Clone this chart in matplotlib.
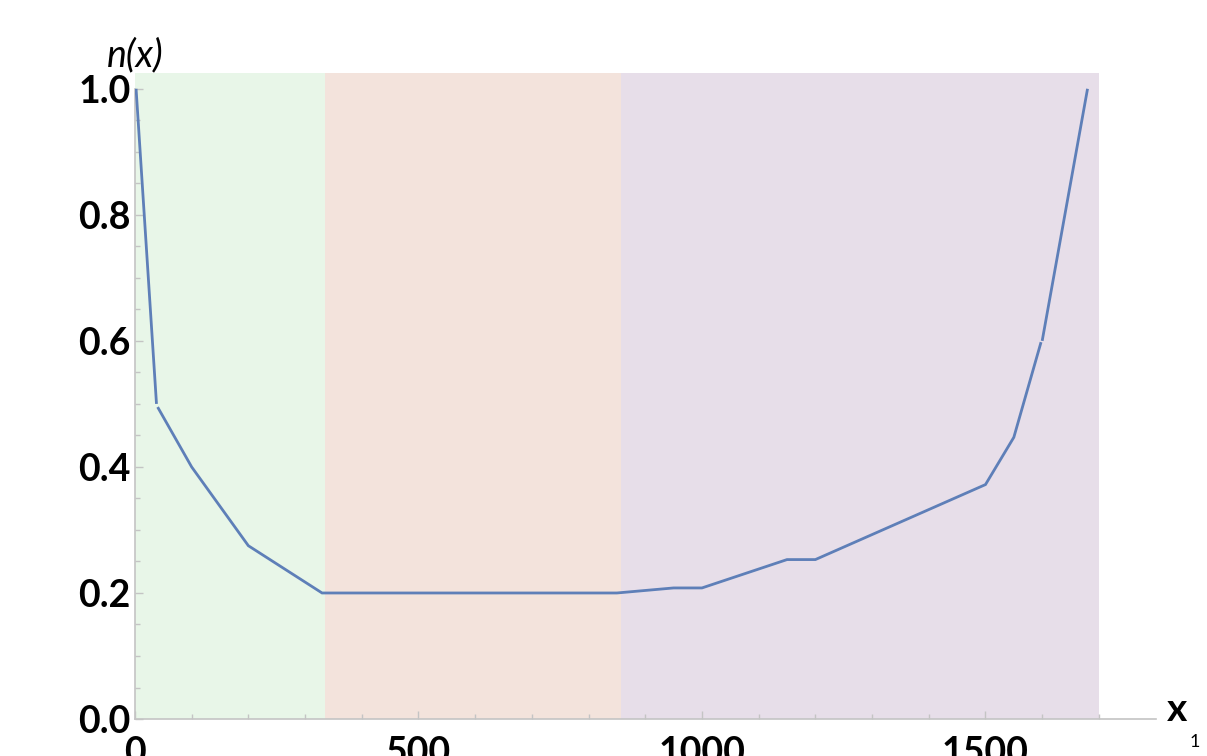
import matplotlib
matplotlib.use("Agg")
import matplotlib.pyplot as plt

# Piecewise profile n(x) along x1
x_left = [2, 38]
n_left = [1.0, 0.50]
x_mid = [40, 100, 200, 330, 850, 950, 1000, 1150, 1200, 1500, 1550, 1598]
n_mid = [0.495, 0.40, 0.275, 0.20, 0.20, 0.208, 0.208, 0.253, 0.253, 0.372, 0.447, 0.598]
x_right = [1600, 1680]
n_right = [0.60, 1.0]

# Shaded zones along x1
zone_edges = [0, 335, 857, 1700]
zone_colors = ["#e8f6e8", "#f3e3dc", "#e7dee9"]

x_ticks = [0, 500, 1000, 1500]
y_ticks = [0.0, 0.2, 0.4, 0.6, 0.8, 1.0]
y_tick_labels = ["0.0", "0.2", "0.4", "0.6", "0.8", "1.0"]

LINE = "#5e7fb8"
AXIS = "#c4c4c4"
FONT = "Lato"

fig = plt.figure(figsize=(12.07, 7.56), dpi=100)
ax = fig.add_axes([0.1118, 0.0489, 0.8456, 0.8545])

for (a, b), c in zip(zip(zone_edges[:-1], zone_edges[1:]), zone_colors):
    ax.axvspan(a, b, color=c, lw=0, zorder=0)

for xs, ys in [(x_left, n_left), (x_mid, n_mid), (x_right, n_right)]:
    ax.plot(xs, ys, color=LINE, lw=2.0, solid_capstyle="butt",
            solid_joinstyle="miter", zorder=3)

ax.set_xlim(0, 1800)
ax.set_ylim(0, 1.025)

for s in ["top", "right"]:
    ax.spines[s].set_visible(False)
for s in ["left", "bottom"]:
    ax.spines[s].set_color(AXIS)
    ax.spines[s].set_linewidth(1.2)
ax.spines["left"].set_bounds(0, 1.0)

ax.set_xticks(x_ticks)
ax.set_xticks(range(0, 1800, 100), minor=True)
ax.set_yticks(y_ticks)
ax.set_yticklabels(y_tick_labels)
ax.set_yticks([i * 0.05 for i in range(21)], minor=True)

ax.tick_params(which="major", direction="in", length=6, width=1, color=AXIS,
               labelsize=27, pad=3)
ax.tick_params(which="minor", direction="in", length=3.5, width=1, color=AXIS)
ax.tick_params(axis="x", which="major", pad=12)
for lab in ax.get_xticklabels() + ax.get_yticklabels():
    lab.set_fontfamily(FONT)
    lab.set_fontweight("bold")

ax.text(0.0, 1.028, "n(x)", transform=ax.transAxes, ha="center", va="center",
        fontsize=27, fontstyle="italic", fontfamily=FONT)
ax.text(1.0 + 0.011, 0.015, "x", transform=ax.transAxes, ha="left",
        va="center", fontsize=28, fontfamily=FONT, fontweight="bold",
        clip_on=False)
ax.text(1.0 + 0.033, -0.035, "1", transform=ax.transAxes, ha="left",
        va="center", fontsize=13, fontfamily=FONT, clip_on=False)

fig.savefig("out.png", dpi=100)
